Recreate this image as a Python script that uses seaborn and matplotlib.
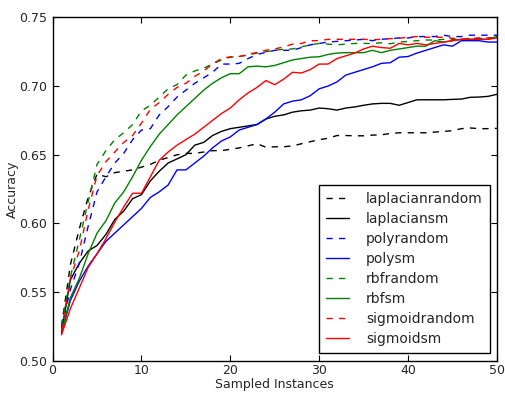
import numpy as np
import pandas as pd
import matplotlib
matplotlib.use("Agg")
import matplotlib.pyplot as plt
import seaborn as sns

x = list(range(1, 51))

laplacianrandom = [0.525, 0.570, 0.596, 0.619, 0.636, 0.634, 0.637, 0.638, 0.639, 0.641,
                   0.643, 0.646, 0.648, 0.650, 0.651, 0.651, 0.652, 0.653, 0.653, 0.654,
                   0.655, 0.6565, 0.658, 0.6555, 0.6558, 0.6558, 0.6565, 0.658, 0.6595, 0.661,
                   0.662, 0.664, 0.664, 0.6638, 0.6638, 0.6643, 0.6645, 0.6655, 0.666, 0.666,
                   0.666, 0.666, 0.6665, 0.667, 0.6675, 0.669, 0.6695, 0.669, 0.669, 0.6692]
laplaciansm = [0.521, 0.559, 0.571, 0.580, 0.584, 0.592, 0.603, 0.609, 0.618, 0.621,
               0.631, 0.638, 0.644, 0.647, 0.650, 0.657, 0.659, 0.664, 0.667, 0.669,
               0.670, 0.671, 0.672, 0.676, 0.678, 0.679, 0.681, 0.682, 0.6825, 0.684,
               0.6835, 0.6825, 0.684, 0.6848, 0.686, 0.687, 0.6874, 0.6874, 0.686, 0.688,
               0.690, 0.690, 0.690, 0.690, 0.6903, 0.6905, 0.6918, 0.692, 0.6925, 0.694]
polyrandom = [0.524, 0.552, 0.571, 0.598, 0.623, 0.634, 0.644, 0.651, 0.661, 0.668,
              0.669, 0.679, 0.685, 0.692, 0.697, 0.702, 0.706, 0.710, 0.716, 0.716,
              0.7165, 0.720, 0.723, 0.7245, 0.726, 0.726, 0.726, 0.728, 0.730, 0.731,
              0.732, 0.7325, 0.733, 0.7335, 0.734, 0.733, 0.734, 0.7345, 0.735, 0.735,
              0.736, 0.736, 0.736, 0.737, 0.736, 0.736, 0.737, 0.737, 0.737, 0.737]
polysm = [0.520, 0.544, 0.558, 0.569, 0.578, 0.587, 0.593, 0.599, 0.605, 0.611,
          0.619, 0.623, 0.628, 0.639, 0.639, 0.644, 0.649, 0.655, 0.660, 0.663,
          0.668, 0.670, 0.672, 0.676, 0.681, 0.687, 0.689, 0.690, 0.693, 0.698,
          0.700, 0.703, 0.708, 0.710, 0.712, 0.714, 0.7165, 0.717, 0.721, 0.7215,
          0.724, 0.726, 0.728, 0.730, 0.729, 0.733, 0.733, 0.733, 0.732, 0.732]
rbfrandom = [0.526, 0.561, 0.588, 0.616, 0.643, 0.653, 0.661, 0.666, 0.672, 0.682,
             0.686, 0.692, 0.698, 0.701, 0.708, 0.711, 0.713, 0.716, 0.719, 0.721,
             0.7215, 0.7225, 0.724, 0.725, 0.726, 0.7268, 0.727, 0.7285, 0.730, 0.731,
             0.7305, 0.730, 0.7305, 0.731, 0.731, 0.731, 0.7315, 0.7308, 0.732, 0.7325,
             0.733, 0.7335, 0.7335, 0.734, 0.734, 0.734, 0.7347, 0.7347, 0.735, 0.7355]
rbfsm = [0.520, 0.546, 0.560, 0.578, 0.593, 0.602, 0.615, 0.623, 0.634, 0.646,
         0.656, 0.665, 0.672, 0.679, 0.685, 0.691, 0.697, 0.702, 0.706, 0.709,
         0.709, 0.714, 0.7145, 0.714, 0.715, 0.717, 0.719, 0.720, 0.721, 0.7213,
         0.723, 0.724, 0.7243, 0.7243, 0.7243, 0.726, 0.7243, 0.726, 0.727, 0.728,
         0.729, 0.729, 0.733, 0.732, 0.733, 0.734, 0.734, 0.734, 0.734, 0.736]
sigmoidrandom = [0.522, 0.560, 0.580, 0.610, 0.635, 0.645, 0.652, 0.659, 0.664, 0.673,
                 0.683, 0.688, 0.694, 0.699, 0.702, 0.707, 0.711, 0.716, 0.720, 0.7213,
                 0.7215, 0.723, 0.7245, 0.726, 0.727, 0.7285, 0.7305, 0.731, 0.733, 0.733,
                 0.734, 0.734, 0.734, 0.734, 0.734, 0.7337, 0.734, 0.7345, 0.7348, 0.7355,
                 0.736, 0.7355, 0.7355, 0.7355, 0.7348, 0.734, 0.7345, 0.735, 0.735, 0.7345]
sigmoidsm = [0.519, 0.538, 0.553, 0.568, 0.578, 0.589, 0.601, 0.612, 0.622, 0.622,
             0.634, 0.646, 0.652, 0.657, 0.661, 0.665, 0.670, 0.675, 0.680, 0.684,
             0.690, 0.695, 0.699, 0.704, 0.701, 0.705, 0.710, 0.7095, 0.712, 0.716,
             0.716, 0.720, 0.722, 0.724, 0.727, 0.729, 0.728, 0.7275, 0.731, 0.730,
             0.731, 0.730, 0.731, 0.732, 0.733, 0.734, 0.734, 0.734, 0.734, 0.735]

series_names = ["laplacianrandom", "laplaciansm", "polyrandom", "polysm",
                "rbfrandom", "rbfsm", "sigmoidrandom", "sigmoidsm"]
series_values = [laplacianrandom, laplaciansm, polyrandom, polysm,
                 rbfrandom, rbfsm, sigmoidrandom, sigmoidsm]

rows = []
for name, vals in zip(series_names, series_values):
    for xi, v in zip(x, vals):
        rows.append({"x": xi, "acc": v, "series": name})
df = pd.DataFrame(rows)

colors = {"laplacianrandom": "black", "laplaciansm": "black",
          "polyrandom": "blue", "polysm": "blue",
          "rbfrandom": "green", "rbfsm": "green",
          "sigmoidrandom": "red", "sigmoidsm": "red"}
dash = (4.5, 4.5)
dashes = {n: (dash if n.endswith("random") else "") for n in series_names}

sns.set_style("ticks")
plt.rcParams["font.family"] = ["DejaVu Sans"]
plt.rcParams["xtick.direction"] = "in"
plt.rcParams["ytick.direction"] = "in"

fig = plt.figure(figsize=(5.06, 3.94), dpi=100)
ax = fig.add_axes([0.104, 0.084, 0.878, 0.872])

sns.lineplot(data=df, x="x", y="acc", hue="series", style="series",
             palette=colors, dashes=dashes, hue_order=series_names,
             style_order=series_names, linewidth=1.0, ax=ax, legend=True)

ax.set_xlim(0, 50)
ax.set_ylim(0.50, 0.75)
ax.set_xticks([0, 10, 20, 30, 40, 50])
ax.set_yticks([0.50, 0.55, 0.60, 0.65, 0.70, 0.75])
ax.set_yticklabels(["0.50", "0.55", "0.60", "0.65", "0.70", "0.75"])
ax.tick_params(axis="both", which="both", direction="in", top=True, right=True,
               length=4, width=0.8, labelsize=9, color="black")
ax.tick_params(axis="x", pad=2)
ax.tick_params(axis="y", pad=4)
for sp in ax.spines.values():
    sp.set_visible(True)
    sp.set_color("black")
    sp.set_linewidth(1.0)
ax.set_xlabel("Sampled Instances", fontsize=9, labelpad=1)
ax.set_ylabel("Accuracy", fontsize=9, labelpad=0)

handles, labels = ax.get_legend_handles_labels()
pairs = [(h, l) for h, l in zip(handles, labels) if l in series_names]
leg = ax.legend([p[0] for p in pairs], [p[1] for p in pairs], loc="lower right",
                fontsize=10, frameon=True, fancybox=False, edgecolor="black",
                framealpha=1, handlelength=1.7, handletextpad=1.2,
                labelspacing=0.43, borderpad=0.5, borderaxespad=0,
                bbox_to_anchor=(0.984, 0.023))
leg.get_frame().set_linewidth(1.0)

fig.savefig("out.png", dpi=100)
